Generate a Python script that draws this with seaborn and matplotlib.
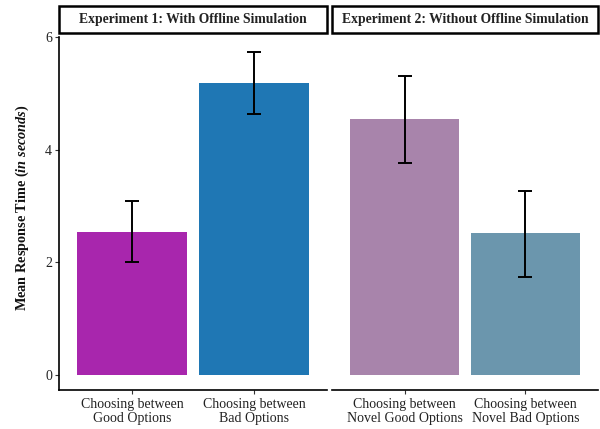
import pandas as pd
import seaborn as sns
import matplotlib.pyplot as plt
from matplotlib.patches import Rectangle

# data
experiments = ["Experiment 1: With Offline Simulation", "Experiment 2: Without Offline Simulation"]
conditions = [
    ["Choosing between\nGood Options", "Choosing between\nBad Options"],
    ["Choosing between\nNovel Good Options", "Choosing between\nNovel Bad Options"],
]
mean_rt = [[2.54, 5.19], [4.54, 2.51]]
ci_low = [[2.00, 4.64], [3.77, 1.74]]
ci_high = [[3.09, 5.73], [5.30, 3.27]]
bar_colors = [["#A826AD", "#1F77B4"], ["#A884AB", "#6B96AD"]]

sns.set_theme(style="white")
plt.rcParams["font.family"] = ["Liberation Serif", "DejaVu Serif"]
plt.rcParams["mathtext.fontset"] = "custom"
plt.rcParams["mathtext.it"] = "Liberation Serif:bold:italic"
plt.rcParams["mathtext.rm"] = "Liberation Serif:bold"

fig = plt.figure(figsize=(6, 4.29), dpi=100)
ax_h = 353 / 429
axes = [
    fig.add_axes([59 / 600, 1 - 390 / 429, 268 / 600, ax_h]),
    fig.add_axes([332 / 600, 1 - 390 / 429, 266 / 600, ax_h]),
]

for i, ax in enumerate(axes):
    df = pd.DataFrame({"cond": conditions[i], "rt": mean_rt[i]})
    sns.barplot(data=df, x="cond", y="rt", hue="cond", palette=bar_colors[i],
                width=0.9, legend=False, ax=ax, saturation=1, linewidth=0)
    lo = [m - l for m, l in zip(mean_rt[i], ci_low[i])]
    hi = [h - m for m, h in zip(mean_rt[i], ci_high[i])]
    ax.errorbar(range(2), mean_rt[i], yerr=[lo, hi], fmt="none", ecolor="black",
                elinewidth=1.4, capsize=5, capthick=1.4)
    ax.set_xlim(-0.6, 1.6)
    ax.set_ylim(-0.27, 6.0)
    ax.set_xlabel("")
    ax.set_ylabel("")
    ax.tick_params(axis="x", length=3, width=0.8, color="#333333", labelsize=10, pad=3,
                   bottom=True)
    ax.tick_params(axis="y", length=3, width=0.8, color="#333333", labelsize=10, pad=2,
                   left=True)
    for s in ["top", "right"]:
        ax.spines[s].set_visible(False)
    ax.spines["bottom"].set_color("black")
    ax.spines["bottom"].set_linewidth(1.2)
    ax.spines["left"].set_color("black")
    ax.spines["left"].set_linewidth(1.2)
    for lbl in ax.get_xticklabels():
        lbl.set_linespacing(1.05)
        lbl.set_color("#222222")

    # facet strip
    strip_y0 = 1 + 4 / 353
    strip_h = 27 / 353
    ax.add_patch(Rectangle((0, strip_y0), 1, strip_h, transform=ax.transAxes,
                           facecolor="white", edgecolor="black", linewidth=1.8,
                           clip_on=False))
    ax.text(0.5, strip_y0 + strip_h / 2, experiments[i], transform=ax.transAxes,
            ha="center", va="center", fontsize=9.8, fontweight="bold", color="#222222")

axes[0].set_yticks([0, 2, 4, 6])
axes[0].tick_params(axis="y", labelcolor="#222222")
axes[1].spines["left"].set_visible(False)
axes[1].set_yticks([])

fig.text(0.037, 0.515, r"Mean Response Time ($\mathit{in\ seconds}$)", rotation=90,
         ha="center", va="center", fontsize=10.3, fontweight="bold", color="#111111")

fig.savefig("out.png", dpi=100)
